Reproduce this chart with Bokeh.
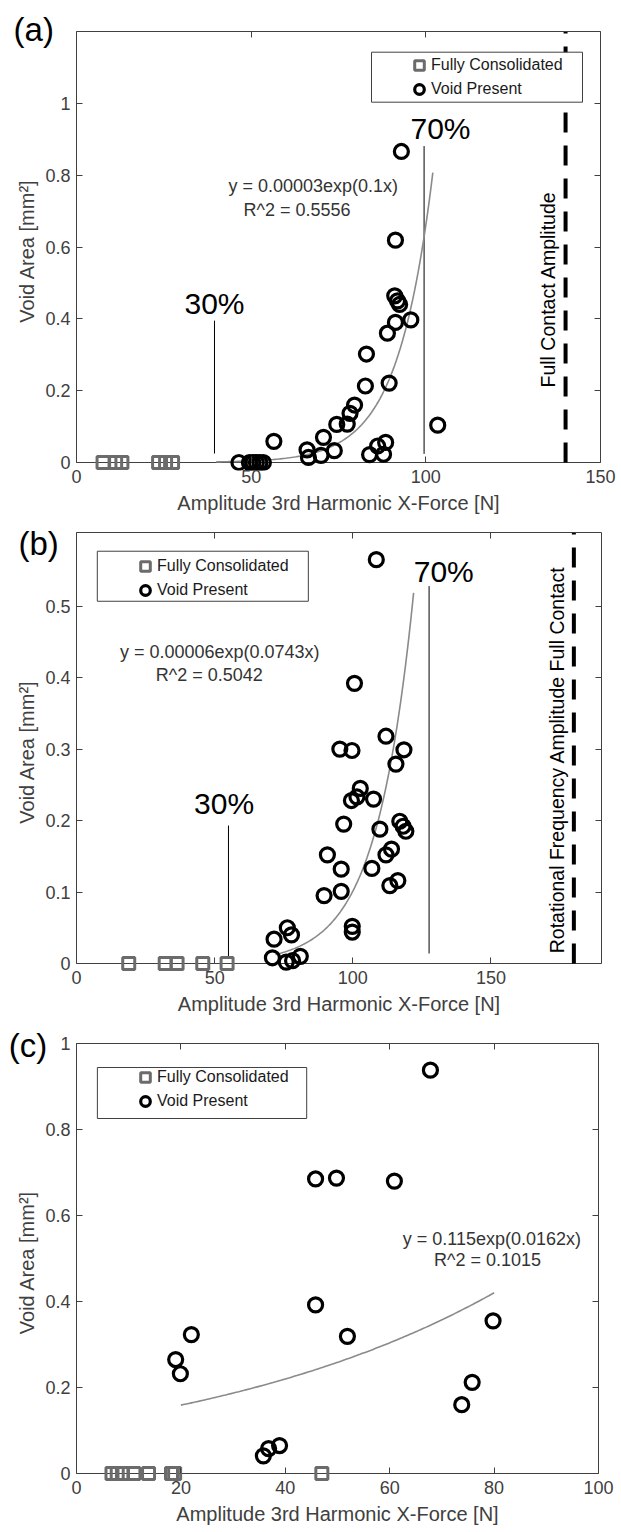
import numpy as np
from bokeh.plotting import figure
from bokeh.models import (Range1d, FixedTicker, LinearAxis, Legend, LegendItem, Label,
                          Span, BoxAnnotation)
from bokeh.core.properties import value
from bokeh.layouts import column
from bokeh.embed import file_html
from bokeh.resources import INLINE

FONT = "Liberation Sans"
AX = "#404040"
X_LABEL = "Amplitude 3rd Harmonic X-Force [N]"
Y_LABEL = "Void Area [mm²]"
LEG_LABELS = ["Fully Consolidated", "Void Present"]
PANEL_TAGS = ["(a)", "(b)", "(c)"]

# ---------------- panel (a) data ----------------
a_void_x = [46.5, 49.5, 50.5, 51.5, 52.5, 53.5, 56.5, 66.0, 66.4, 70.0, 70.7, 73.8, 74.5, 77.5,
            78.3, 79.6, 82.7, 83.0, 83.9, 86.2, 87.9, 88.5, 89.5, 89.0, 91.3, 91.1, 91.9, 92.5,
            95.7, 91.3, 93.0, 103.4]
a_void_y = [0.0, 0.0, 0.0, 0.0, 0.0, 0.0, 0.059, 0.035, 0.014, 0.020, 0.070, 0.033, 0.106, 0.107,
            0.137, 0.160, 0.213, 0.302, 0.022, 0.046, 0.023, 0.056, 0.221, 0.360, 0.390, 0.464, 0.450, 0.440,
            0.397, 0.619, 0.866, 0.104]
a_cons_x = [7.6, 11.2, 13.0, 23.5, 25.5, 27.5]
a_cons_y = [0, 0, 0, 0, 0, 0]
a_x_ticks = [0, 50, 100, 150]
a_y_ticks = [0, 0.2, 0.4, 0.6, 0.8, 1.0]
a_y_tick_labels = ["0", "0.2", "0.4", "0.6", "0.8", "1"]
a_fit_coef = [0.00003, 0.1]
a_fit_span = [40, 102]
a_fit_text = ["y = 0.00003exp(0.1x)", "R^2 = 0.5556"]
a_pct_x = [39.5, 99.5]
a_pct_y0 = [0.025, 0.024]
a_pct_y1 = [0.395, 0.881]
a_pct_text = ["30%", "70%"]
a_contact_x = 140
a_contact_text = "Full Contact Amplitude"

# ---------------- panel (b) data ----------------
b_void_x = [108.5, 100.6, 112.0, 95.3, 99.7, 118.5, 115.6, 102.7, 99.5, 101.5, 107.5, 96.7, 109.8,
            117.0, 118.2, 119.2, 90.8, 95.8, 106.9, 112.0, 114.0, 113.4, 116.3, 89.6, 95.8, 99.8,
            99.8, 71.5, 76.3, 77.8, 70.9, 75.9, 78.2, 81.0]
b_void_y = [0.565, 0.392, 0.318, 0.300, 0.298, 0.299, 0.279, 0.245, 0.228, 0.233, 0.230, 0.195, 0.188,
            0.199, 0.192, 0.185, 0.152, 0.132, 0.133, 0.152, 0.160, 0.109, 0.116, 0.095, 0.101, 0.052,
            0.044, 0.034, 0.050, 0.040, 0.008, 0.002, 0.004, 0.010]
b_cons_x = [18.9, 32.1, 36.4, 45.7, 54.5]
b_cons_y = [0, 0, 0, 0, 0]
b_x_ticks = [0, 50, 100, 150]
b_y_ticks = [0, 0.1, 0.2, 0.3, 0.4, 0.5]
b_y_tick_labels = ["0", "0.1", "0.2", "0.3", "0.4", "0.5"]
b_fit_coef = [0.00006, 0.0743]
b_fit_span = [72, 122]
b_fit_text = ["y = 0.00006exp(0.0743x)", "R^2 = 0.5042"]
b_pct_x = [55.0, 127.6]
b_pct_y0 = [0.007, 0.014]
b_pct_y1 = [0.193, 0.528]
b_pct_text = ["30%", "70%"]
b_contact_x = 180
b_contact_text = "Rotational Frequency Amplitude Full Contact"

# ---------------- panel (c) data ----------------
c_void_x = [67.8, 45.8, 49.8, 60.9, 45.8, 51.9, 22.0, 19.0, 19.9, 35.8, 36.8, 38.9, 79.8, 75.8, 73.8]
c_void_y = [0.938, 0.685, 0.687, 0.680, 0.392, 0.319, 0.323, 0.265, 0.232, 0.041, 0.058, 0.065,
            0.355, 0.212, 0.160]
c_cons_x = [6.8, 7.8, 8.8, 11.0, 13.8, 18.2, 18.8, 47.0]
c_cons_y = [0, 0, 0, 0, 0, 0, 0, 0]
c_x_ticks = [0, 20, 40, 60, 80, 100]
c_y_ticks = [0, 0.2, 0.4, 0.6, 0.8, 1.0]
c_y_tick_labels = ["0", "0.2", "0.4", "0.6", "0.8", "1"]
c_fit_coef = [0.115, 0.0162]
c_fit_span = [20, 80]
c_fit_text = ["y = 0.115exp(0.0162x)", "R^2 = 0.1015"]

STRIP = 8  # px of frame kept below y = 0 so markers sitting on the axis are not cut


def style_axis(ax):
    ax.axis_line_color = AX
    ax.axis_line_width = 1
    ax.major_tick_line_color = AX
    ax.minor_tick_line_color = AX
    ax.major_tick_in = 6
    ax.major_tick_out = 0
    ax.minor_tick_in = 6
    ax.minor_tick_out = 0
    ax.major_label_text_font = FONT
    ax.major_label_text_font_size = "18px"
    ax.major_label_text_color = AX
    ax.axis_label_text_font = FONT
    ax.axis_label_text_font_size = "20px"
    ax.axis_label_text_color = AX
    ax.axis_label_text_font_style = "normal"


def make_panel(xmax, ymax, frame_w, data_h, borders, x_ticks, y_ticks, y_tick_labels, tag, tag_xy):
    frame_h = data_h + STRIP
    ystart = -STRIP * ymax / data_h
    p = figure(frame_width=frame_w, frame_height=frame_h,
               x_range=Range1d(0, xmax), y_range=Range1d(ystart, ymax),
               output_backend="svg", toolbar_location=None,
               min_border_left=borders[0], min_border_right=borders[1],
               min_border_top=borders[2], min_border_bottom=borders[3])
    p.outline_line_color = None
    p.grid.visible = False
    p.background_fill_color = "white"
    p.border_fill_color = "white"
    xa = p.xaxis[0]
    ya = p.yaxis[0]
    style_axis(xa)
    style_axis(ya)
    # bottom axis sits on the frame edge, STRIP px below y = 0; its ticks start at y = 0
    xa.ticker = FixedTicker(ticks=x_ticks)
    xa.axis_line_color = None
    xa.major_tick_out = -STRIP
    xa.major_tick_in = STRIP + 6
    xa.axis_label = X_LABEL
    xa.major_label_standoff = -1
    xa.axis_label_standoff = 6
    ya.ticker = FixedTicker(ticks=y_ticks)
    ya.major_label_overrides = {t: l for t, l in zip(y_ticks, y_tick_labels)}
    ya.bounds = (0, ymax)
    ya.axis_label = Y_LABEL
    ya.major_label_standoff = 6
    ya.axis_label_standoff = 4
    # x axis line drawn at y = 0
    p.add_layout(Span(location=0, dimension="width", line_color=AX, line_width=1, level="underlay"))
    # box ticks on top and right (minor ticks only: no tick labels there)
    top = LinearAxis(ticker=FixedTicker(ticks=[], minor_ticks=x_ticks))
    style_axis(top)
    p.add_layout(top, "above")
    right = LinearAxis(ticker=FixedTicker(ticks=[], minor_ticks=y_ticks), bounds=(0, ymax))
    style_axis(right)
    p.add_layout(right, "right")
    # panel tag "(a)" etc., left of the frame (overlay level is drawn without frame clipping)
    p.text(x=[tag_xy[0]], y=[tag_xy[1]], text=[tag], text_font=value(FONT),
           text_font_size=value("33px"), text_align="left", text_baseline="middle",
           text_color="black", level="overlay")
    return p


def add_data(p, cons_x, cons_y, void_x, void_y, fit_coef, fit_span, box, legend_loc):
    xs = np.linspace(fit_span[0], fit_span[1], 120)
    p.line(xs, fit_coef[0] * np.exp(fit_coef[1] * xs), line_color="#8a8a8a", line_width=1.6)
    sq = p.scatter(cons_x, cons_y, marker="square", size=12, fill_color=None,
                   line_color="#6b6b6b", line_width=3)
    ci = p.scatter(void_x, void_y, marker="circle", size=14, fill_color=None,
                   line_color="black", line_width=3.2)
    p.add_layout(BoxAnnotation(left=box[0], right=box[1], bottom=box[2], top=box[3],
                               fill_color="white", fill_alpha=1, line_color=AX, line_width=1,
                               line_alpha=1))
    leg = Legend(items=[LegendItem(label=LEG_LABELS[0], renderers=[sq]),
                        LegendItem(label=LEG_LABELS[1], renderers=[ci])],
                 location=legend_loc, glyph_width=24, glyph_height=24, label_standoff=0,
                 padding=0, spacing=0, margin=0,
                 border_line_color=None, background_fill_alpha=0,
                 label_text_font=FONT, label_text_font_size="16px", label_text_color="#1a1a1a")
    p.add_layout(leg)


def add_text(p, x, y, text, size, align="left", angle=0, color="black"):
    p.add_layout(Label(x=x, y=y, text=text, angle=angle,
                       text_font=FONT, text_font_size=size, text_align=align,
                       text_baseline="middle", text_color=color))


# ---------------- (a) ----------------
pa = make_panel(150, 1.2, 524, 431, (73, 24, 31, 50), a_x_ticks, a_y_ticks, a_y_tick_labels,
                PANEL_TAGS[0], (-18.0, 1.205))
pa.segment(x0=a_pct_x, y0=a_pct_y0, x1=a_pct_x, y1=a_pct_y1, line_color="black", line_width=1)
pa.segment(x0=[a_contact_x], y0=[0], x1=[a_contact_x], y1=[1.2], line_color="black",
           line_width=4, line_dash="20 13")
add_data(pa, a_cons_x, a_cons_y, a_void_x, a_void_y, a_fit_coef, a_fit_span,
         (84.45, 144.85, 1.0032, 1.1424), (331, 369))
add_text(pa, 39.5, 0.444, a_pct_text[0], "30px", align="center")
add_text(pa, 104.2, 0.931, a_pct_text[1], "30px", align="center")
add_text(pa, 43.5, 0.769, a_fit_text[0], "18px", color="#333333")
add_text(pa, 47.8, 0.702, a_fit_text[1], "18px", color="#333333")
add_text(pa, 135.1, 0.482, a_contact_text, "19.5px", align="center", angle=np.pi / 2)

# ---------------- (b) ----------------
pb = make_panel(190, 0.603, 525, 431, (76, 20, 12, 55), b_x_ticks, b_y_ticks, b_y_tick_labels,
                PANEL_TAGS[1], (-21.0, 0.587))
pb.segment(x0=b_pct_x, y0=b_pct_y0, x1=b_pct_x, y1=b_pct_y1, line_color="black", line_width=1)
pb.segment(x0=[b_contact_x], y0=[0], x1=[b_contact_x], y1=[0.603], line_color="black",
           line_width=4, line_dash="20 13")
add_data(pb, b_cons_x, b_cons_y, b_void_x, b_void_y, b_fit_coef, b_fit_span,
         (7.53, 83.9, 0.5068, 0.5768), (57, 369))
add_text(pb, 53.4, 0.2245, b_pct_text[0], "30px", align="center")
add_text(pb, 132.9, 0.5487, b_pct_text[1], "30px", align="center")
add_text(pb, 15.7, 0.436, b_fit_text[0], "18px", color="#333333")
add_text(pb, 28.7, 0.403, b_fit_text[1], "18px", color="#333333")
add_text(pb, 173.8, 0.285, b_contact_text, "19.5px", align="center", angle=np.pi / 2)

# ---------------- (c) ----------------
pc = make_panel(100, 1.0, 522, 430, (76, 23, 17, 51), c_x_ticks, c_y_ticks, c_y_tick_labels,
                PANEL_TAGS[2], (-13.0, 0.9965))
add_data(pc, c_cons_x, c_cons_y, c_void_x, c_void_y, c_fit_coef, c_fit_span,
         (4.0, 44.1, 0.8256, 0.9442), (57, 368))
add_text(pc, 62.5, 0.545, c_fit_text[0], "18px", color="#333333")
add_text(pc, 68.5, 0.497, c_fit_text[1], "18px", color="#333333")

layout = column(pa, pb, pc, spacing=0)
open("out.html", "w").write(file_html(layout, INLINE))
